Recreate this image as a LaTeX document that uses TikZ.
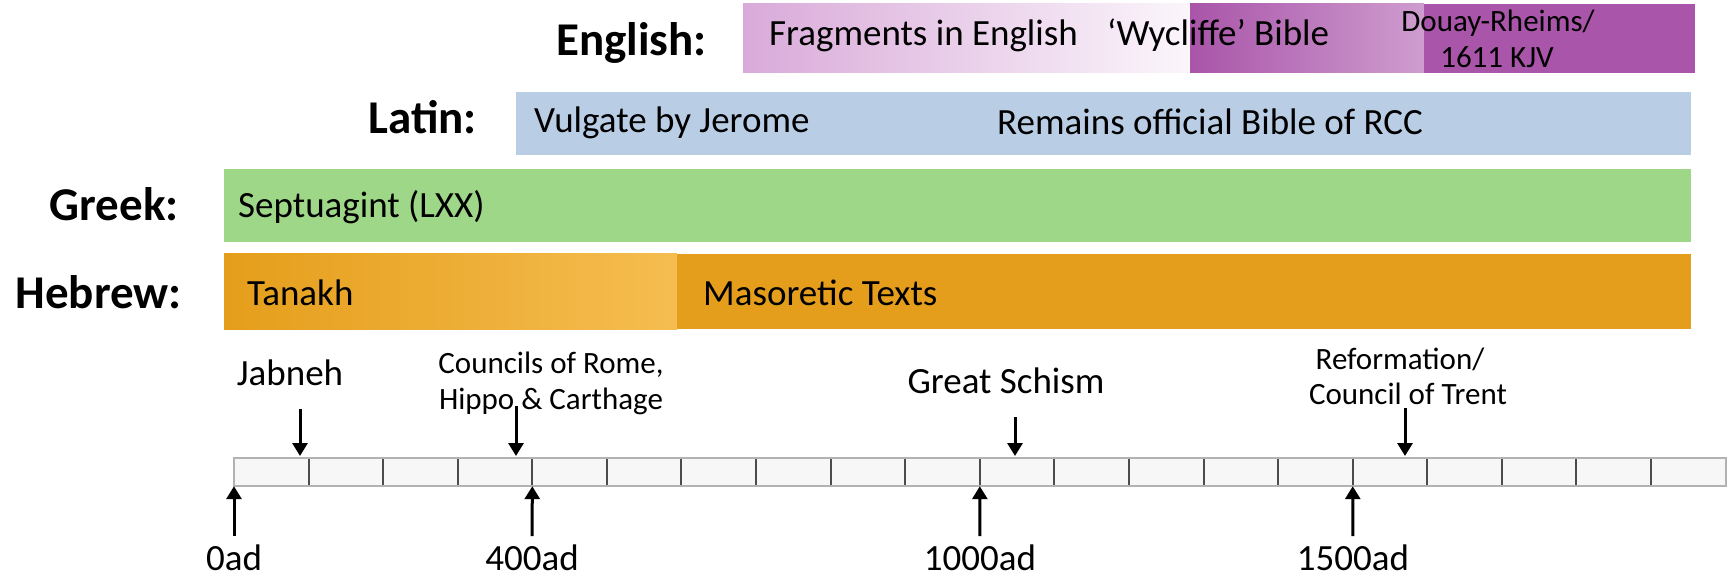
\documentclass[tikz,border=0pt]{standalone}
\usepackage{fontspec}
\setmainfont{Carlito}
\usetikzlibrary{arrows.meta}

\definecolor{hebrew}{HTML}{E59E1B}
\definecolor{tanakhlight}{HTML}{F5BD50}
\definecolor{greek}{HTML}{9ED788}
\definecolor{latin}{HTML}{B9CDE5}
\definecolor{englight}{HTML}{D9AAD9}
\definecolor{engpale}{HTML}{FBF6FB}
\definecolor{engdark}{HTML}{A955A9}
\definecolor{engmid}{HTML}{CF9DCF}

\tikzset{
  lang/.style={anchor=base east, inner sep=0pt, font=\fontsize{47}{56}\selectfont\bfseries},
  lbl/.style={anchor=base west, inner sep=0pt, font=\fontsize{37}{44}\selectfont},
  evt/.style={anchor=base, inner sep=0pt, text depth=0pt, font=\fontsize{37}{44}\selectfont},
  evtsmall/.style={evt, font=\fontsize{31}{36}\selectfont},
  cell/.style={anchor=west, minimum width=74.58pt, minimum height=28pt, inner sep=0pt, fill=gray!6},
  pointer/.style={line width=3pt, -{Triangle[width=15pt,length=13pt]}},
}

\begin{document}
\begin{tikzpicture}[x=1pt,y=-1pt]
\useasboundingbox (0,0) rectangle (1731,577);

% english
\fill[left color=englight, right color=engpale] (743,4) rectangle (1190,73);
\fill[left color=engdark, right color=engmid] (1190,4) rectangle (1424,73);
\fill[engdark] (1424,4) rectangle (1695,73);
\node[lang] (english) at (707,56) {English:};
\node[lbl] (fragments) at (769,46) {Fragments in English};
\node[lbl] (wycliffe) at (1107,46) {‘Wycliffe’ Bible};
\node[evtsmall] (douay) at (1498,32) {Douay-Rheims/};
\node[evtsmall] (kjv) at (1497,68) {1611 KJV};

% latin
\fill[latin] (516,92) rectangle (1691,155);
\node[lang] (latin) at (477,134) {Latin:};
\node[lbl] (vulgate) at (534,133) {Vulgate by Jerome};
\node[lbl] (rcc) at (997,135) {Remains official Bible of RCC};

% greek
\fill[greek] (224,169) rectangle (1691,242);
\node[lang] (greek) at (179,221) {Greek:};
\node[lbl] (lxx) at (238,218) {Septuagint (LXX)};

% hebrew
\fill[left color=hebrew, right color=tanakhlight] (224,254) rectangle (677,329);
\fill[hebrew] (677,254) rectangle (1691,329);
\node[lang] (hebrew) at (182,308) {Hebrew:};
\node[lbl] (tanakh) at (247,305) {Tanakh};
\node[lbl] (masoretic) at (703,305) {Masoretic Texts};

% time line, one cell per century
\foreach \i in {0,...,19}
  \node[cell] (c\i) at ({234+74.58*\i},472) {};
\foreach \i in {1,...,19}
  \draw[black!70, line width=2pt] (c\i.north west) -- (c\i.south west);
\draw[gray!60, line width=2.5pt] (c0.north west) rectangle (c19.south east);

% years
\node[evt] (y0) at (234,570) {0ad};
\node[evt] (y400) at (532,570) {400ad};
\node[evt] (y1000) at (980,570) {1000ad};
\node[evt] (y1500) at (1353,570) {1500ad};
\draw[pointer, shorten <=8pt] (y0) -- (c0.south west);
\draw[pointer, shorten <=8pt] (y400) -- (c4.south west);
\draw[pointer, shorten <=8pt] (y1000) -- (c10.south west);
\draw[pointer, shorten <=8pt] (y1500) -- (c15.south west);

% events
\coordinate (jtip) at (300,456);
\coordinate (ctip) at (516,456);
\coordinate (stip) at (1015,456);
\coordinate (rtip) at (1405,456);
\node[evt] (jabneh) at (290,385) {Jabneh};
\node[evtsmall] (rome) at (551,373) {Councils of Rome,};
\node[evtsmall] (hippo) at (551,409) {Hippo \& Carthage};
\node[evt] (schism) at (1006,393) {Great Schism};
\node[evtsmall] (reform) at (1400,369) {Reformation/};
\node[evtsmall] (trent) at (1408,404) {Council of Trent};
\draw[pointer, shorten <=24pt] (jabneh.south -| jtip) -- (jtip);
\draw[pointer, shorten <=-3pt] (hippo.south -| ctip) -- (ctip);
\draw[pointer, shorten <=24pt] (schism.south -| stip) -- (stip);
\draw[pointer, shorten <=4pt] (trent.south -| rtip) -- (rtip);
\end{tikzpicture}
\end{document}
